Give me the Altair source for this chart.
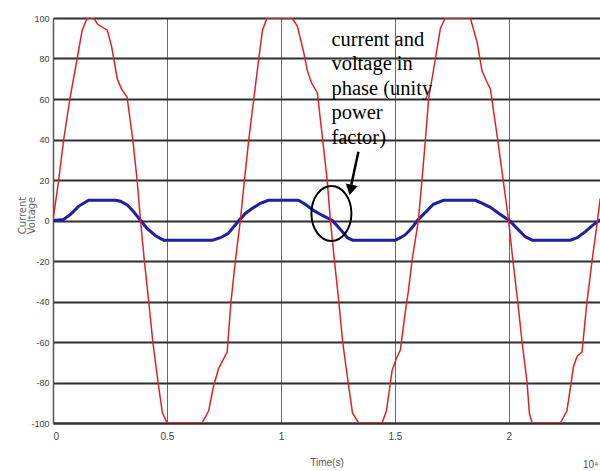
import altair as alt
import pandas as pd

# Voltage (red) trace: time (x10^4 s) and value
red_t = [0.000, 0.025, 0.047, 0.074, 0.106, 0.128, 0.150, 0.179, 0.195, 0.238, 0.257, 0.282,
         0.300, 0.325, 0.350, 0.369, 0.384, 0.401, 0.420, 0.438, 0.461, 0.480, 0.501, 0.654,
         0.683, 0.704, 0.727, 0.764, 0.781, 0.800, 0.822, 0.840, 0.859, 0.881, 0.903, 0.919,
         0.939, 1.049, 1.072, 1.100, 1.116, 1.134, 1.160, 1.183, 1.203, 1.217, 1.235, 1.254,
         1.271, 1.295, 1.314, 1.341, 1.444, 1.463, 1.488, 1.507, 1.524, 1.546, 1.559, 1.575,
         1.603, 1.619, 1.634, 1.648, 1.678, 1.700, 1.721, 1.831, 1.861, 1.882, 1.901, 1.919,
         1.951, 1.975, 1.999, 2.018, 2.039, 2.058, 2.080, 2.090, 2.102, 2.226, 2.255, 2.284,
         2.300, 2.321, 2.343, 2.365, 2.389, 2.401]
red_v = [0, 20, 40, 60, 80, 94, 100, 100, 97, 94, 86, 70,
         65, 61, 40, 20, 0, -20, -40, -60, -80, -95, -100, -100,
         -94, -82, -73, -65, -40, -20, 0, 20, 40, 60, 80, 94,
         100, 100, 96, 83, 74, 68, 63, 40, 20, 0, -20, -40,
         -60, -80, -95, -100, -100, -94, -74, -68, -64, -45, -35, -20,
         0, 20, 40, 60, 80, 95, 100, 100, 88, 74, 69, 65,
         40, 20, 0, -20, -40, -60, -80, -95, -100, -100, -94, -72,
         -67, -65, -40, -20, 0, 11]

# Current (blue) trace
blue_t = [0.000, 0.046, 0.077, 0.112, 0.156, 0.274, 0.296, 0.327, 0.353, 0.384, 0.414, 0.450,
          0.485, 0.700, 0.735, 0.768, 0.794, 0.816, 0.844, 0.875, 0.910, 0.945, 1.077, 1.107,
          1.143, 1.182, 1.226, 1.268, 1.292, 1.314, 1.502, 1.524, 1.546, 1.572, 1.599, 1.634,
          1.669, 1.713, 1.853, 1.884, 1.919, 1.963, 2.002, 2.037, 2.072, 2.103, 2.270, 2.300,
          2.336, 2.366, 2.397, 2.401]
blue_v = [0, 0.5, 3, 7, 10, 10, 9.5, 7.5, 4.5, 0, -4, -7.5,
          -9.7, -9.7, -8.5, -6.5, -3, 0, 3.5, 6, 8.5, 10, 10, 8,
          5, 2.5, 0, -5.3, -8.5, -9.7, -9.7, -8.5, -7, -4, 0, 4,
          8, 10, 10, 8.5, 6.5, 3, 0, -4, -8, -9.7, -9.7, -8.5,
          -5.5, -2.5, 0, 0.5]

x_ticks = [0, 0.5, 1, 1.5, 2]
y_ticks = [-100, -80, -60, -40, -20, 0, 20, 40, 60, 80, 100]
note_lines = ["current and", "voltage in", "phase (unity", "power", "factor)"]

red_df = pd.DataFrame({"t": red_t, "v": red_v})
blue_df = pd.DataFrame({"t": blue_t, "v": blue_v})

sans = "Liberation Sans, Arial, sans-serif"

x_scale = alt.Scale(domain=[0, 2.4], nice=False, zero=False)
y_scale = alt.Scale(domain=[-100, 100], nice=False)

x_axis = alt.Axis(values=x_ticks, format="~g", grid=True, gridColor="#6a6a6a", gridWidth=1,
                  domainColor="#333333", domainWidth=2, ticks=False, labelPadding=8,
                  labelFont=sans, labelFontSize=10, labelColor="#444444",
                  title="Time(s)", titleFont=sans, titleFontSize=10, titleFontWeight="normal",
                  titleColor="#555555", titlePadding=16)
y_axis = alt.Axis(values=y_ticks, grid=True, gridColor="#2e2e2e", gridWidth=1.8,
                  domainColor="#555555", domainWidth=1.5, ticks=False, labelPadding=4,
                  labelExpr="'' + datum.value",
                  labelFont=sans, labelFontSize=9, labelColor="#444444",
                  title=["Current", "Voltage"], titleFont="DejaVu Sans, sans-serif",
                  titleFontSize=10, titleFontWeight="normal", titleColor="#666666",
                  titleX=-26, titleY=197, titleAngle=270, titleAlign="center",
                  titleBaseline="bottom", titleLineHeight=9)

X = alt.X("t:Q", scale=x_scale, axis=x_axis)
Y = alt.Y("v:Q", scale=y_scale, axis=y_axis)

blue = alt.Chart(blue_df).mark_line(color="#1e1ea6", strokeWidth=3, clip=True).encode(x=X, y=Y)
red = alt.Chart(red_df).mark_line(color="#dc2323", strokeWidth=1.5, clip=True).encode(x=X, y=Y)

note_df = pd.DataFrame({"t": [1.2215], "v": [86.3], "txt": [note_lines]})
note = alt.Chart(note_df).mark_text(
    align="left", baseline="alphabetic", font="Liberation Serif, Times New Roman, serif",
    fontSize=20.5, lineHeight=24.5, color="#000000"
).encode(x=X, y=Y, text="txt")

arrow_df = pd.DataFrame({"t": [1.340], "v": [33.9], "t2": [1.309], "v2": [17.7]})
arrow_line = alt.Chart(arrow_df).mark_rule(color="#000000", strokeWidth=2.5).encode(
    x=X, y=Y, x2="t2:Q", y2="v2:Q")

head_df = pd.DataFrame({"t": [1.306], "v": [15.1]})
head = alt.Chart(head_df).mark_point(
    shape="triangle-down", angle=12, size=150, filled=True, color="#000000", opacity=1
).encode(x=X, y=Y)

ellipse_path = "M -0.727 0 A 0.727 1 0 1 0 0.727 0 A 0.727 1 0 1 0 -0.727 0 Z"
ell_df = pd.DataFrame({"t": [1.2215], "v": [3.5]})
ellipse = alt.Chart(ell_df).mark_point(
    shape=ellipse_path, size=3025, filled=False, color="#000000", strokeWidth=2, opacity=1
).encode(x=X, y=Y)

exp_label = alt.Chart(pd.DataFrame({"s": ["10⁴"]})).mark_text(
    align="left", baseline="alphabetic", font=sans, fontSize=10, color="#555555"
).encode(x=alt.value(530), y=alt.value(450), text="s:N")

chart = alt.layer(blue, red, note, arrow_line, head, ellipse, exp_label).properties(
    width=547, height=405,
    autosize=alt.AutoSizeParams(type="none"),
    padding={"left": 53, "top": 18, "right": 0, "bottom": 48},
    background="white",
).configure_view(stroke=None)

chart.save("out.html", embed_options={"renderer": "svg", "actions": False})
